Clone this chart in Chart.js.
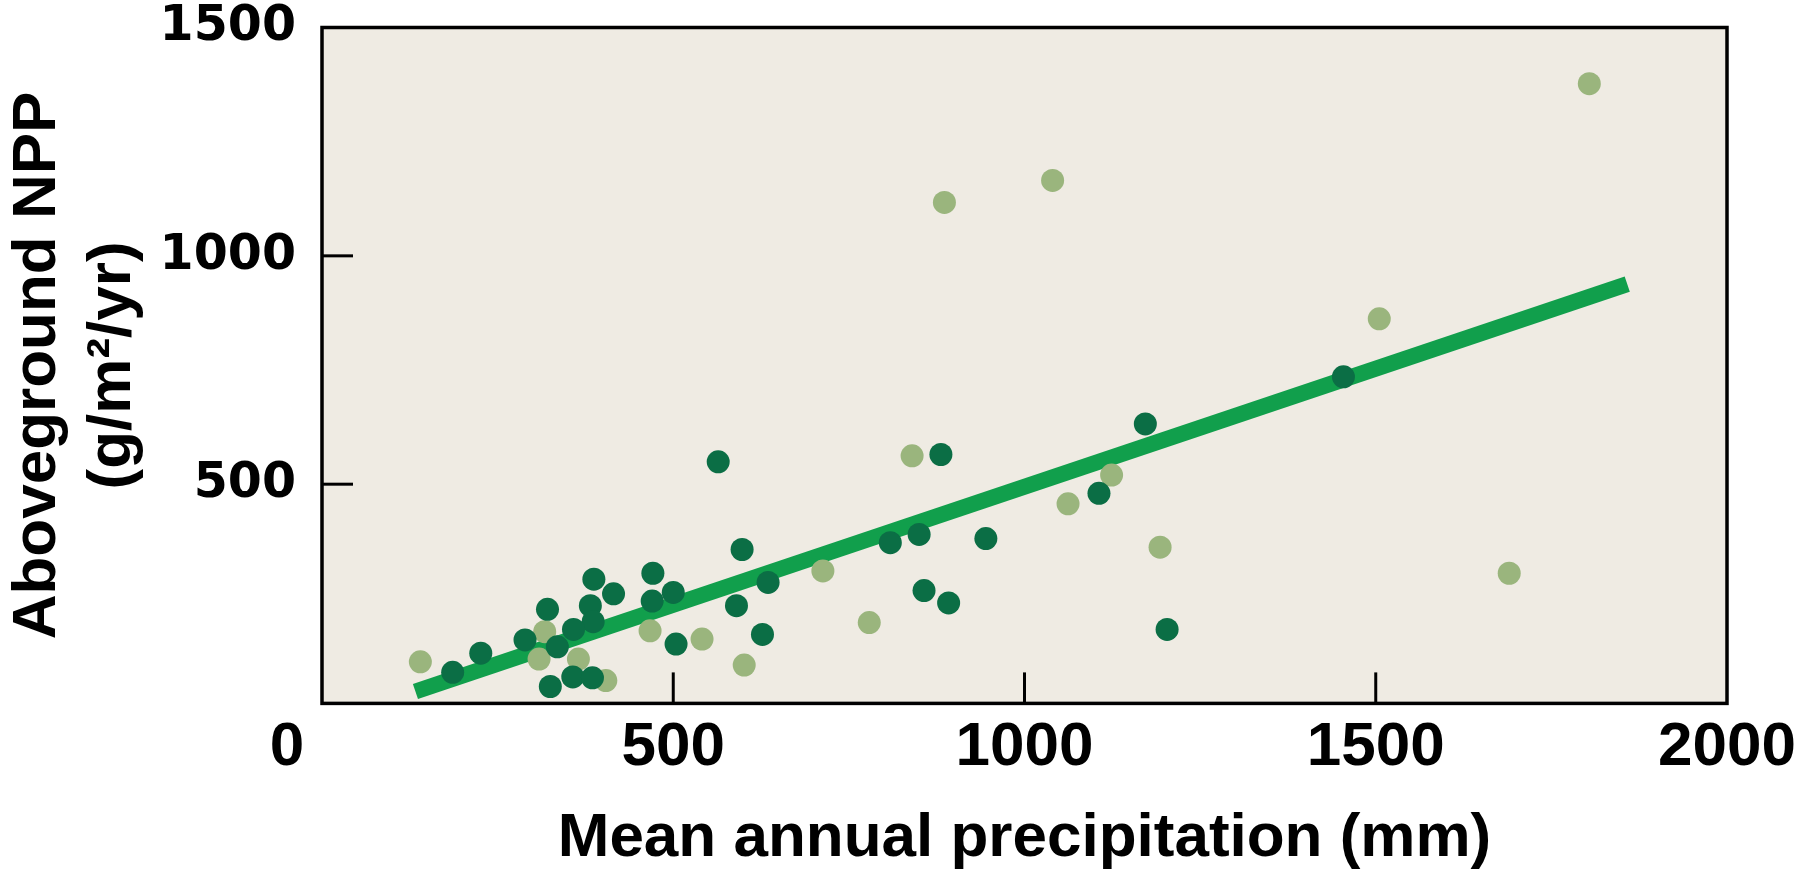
<!DOCTYPE html>
<html>
<head>
<meta charset="utf-8">
<title>Aboveground NPP vs mean annual precipitation</title>
<script src="https://cdn.jsdelivr.net/npm/chart.js@4.4.1/dist/chart.umd.min.js"></script>
<style>
  html, body { margin: 0; padding: 0; background: #fff; }
  #wrap { position: relative; width: 1797px; height: 872px; }
</style>
</head>
<body>
<div id="wrap"><canvas id="chart"></canvas></div>
<script>
// ---- Data ----------------------------------------------------------------

// dark green sites
const darkX = [564, 598, 635, 590, 627, 471, 470, 500, 504, 387, 415, 382, 386, 358, 321, 289,
               335, 226, 186, 325, 357, 385, 881, 809, 850, 945, 1106, 857, 892, 1203, 1172, 1454];
const darkY = [549, 357, 285, 234, 171, 305, 244, 263, 150, 292, 260, 234, 199, 182, 226, 159,
               144, 130, 88, 57, 78, 76, 565, 372, 390, 381, 480, 267, 240, 182, 632, 735];

// pale green sites
const lightX = [140, 317, 309, 365, 404, 467, 541, 601, 840, 1124, 1062, 713, 779, 1193, 1505,
                1690, 1804, 886, 1040];
const lightY = [111, 177, 117, 117, 70, 179, 161, 104, 562, 520, 457, 310, 197, 362, 862,
                305, 1377, 1117, 1165];

// regression line end points
const fitX = [133, 1858];
const fitY = [46, 938];

const xTickValues = [0, 500, 1000, 1500, 2000];
const yTickValues = [500, 1000, 1500];

// ---- Styling -------------------------------------------------------------

const BG = "#efebe3";
const DARK = "#0b6e45";
const LIGHT = "#9ab57d";
const LINE = "#119f4c";
const SANS = "'Liberation Sans', Arial, sans-serif";
const WIDE = "'DejaVu Sans', sans-serif";

function zip(xs, ys) {
  return xs.map((x, i) => ({ x, y: ys[i] }));
}

// Plot background, box frame, inward tick marks and the shared "0"
const framePlugin = {
  id: "frame",
  beforeDraw(chart) {
    const { ctx, chartArea: a } = chart;
    ctx.save();
    ctx.fillStyle = BG;
    ctx.fillRect(a.left, a.top, a.right - a.left, a.bottom - a.top);
    ctx.restore();
  },
  afterDraw(chart) {
    const { ctx, chartArea: a, scales } = chart;
    const x = scales.x;
    const y = scales.y;
    ctx.save();
    ctx.strokeStyle = "#000";
    ctx.lineWidth = 3;
    xTickValues
      .filter((v) => v > x.min && v < x.max)
      .forEach((v) => {
        const px = x.getPixelForValue(v);
        ctx.beginPath();
        ctx.moveTo(px, a.bottom);
        ctx.lineTo(px, a.bottom - 31);
        ctx.stroke();
      });
    yTickValues
      .filter((v) => v > y.min && v < y.max)
      .forEach((v) => {
        const py = y.getPixelForValue(v);
        ctx.beginPath();
        ctx.moveTo(a.left, py);
        ctx.lineTo(a.left + 31, py);
        ctx.stroke();
      });
    ctx.lineWidth = 3.5;
    ctx.strokeRect(a.left, a.top, a.right - a.left, a.bottom - a.top);

    ctx.fillStyle = "#000";
    ctx.font = `bold 62px ${SANS}`;
    ctx.textAlign = "center";
    ctx.textBaseline = "middle";
    ctx.fillText("0", a.left - 35, x.top + 7 + 37.2);
    ctx.restore();
  },
};

new Chart(document.getElementById("chart"), {
  type: "scatter",
  data: {
    datasets: [
      {
        label: "dark",
        data: zip(darkX, darkY),
        backgroundColor: DARK,
        pointRadius: 11.5,
        borderWidth: 0,
        order: 0,
      },
      {
        label: "light",
        data: zip(lightX, lightY),
        backgroundColor: LIGHT,
        pointRadius: 11.5,
        borderWidth: 0,
        order: 1,
      },
      {
        label: "fit",
        data: zip(fitX, fitY),
        showLine: true,
        borderColor: LINE,
        borderWidth: 16,
        borderCapStyle: "butt",
        pointRadius: 0,
        order: 2,
      },
    ],
  },
  options: {
    responsive: true,
    maintainAspectRatio: false,
    animation: false,
    events: [],
    layout: { padding: { left: 0, top: 27.5, right: 70, bottom: 0 } },
    plugins: { legend: { display: false }, tooltip: { enabled: false } },
    scales: {
      x: {
        type: "linear",
        min: 0,
        max: 2000,
        afterBuildTicks: (s) => {
          s.ticks = xTickValues.map((v) => ({ value: v }));
        },
        // fixed band under the plot; edge labels may overhang the margins
        afterFit: (s) => {
          s.height = 168.6;
          s.paddingLeft = 0;
          s.paddingRight = 0;
        },
        grid: { display: false, drawTicks: false },
        border: { display: false },
        ticks: {
          padding: 7,
          color: "#000",
          maxRotation: 0,
          autoSkip: false,
          font: { family: SANS, size: 62, weight: "bold", lineHeight: 1.2 },
          callback: (v) => (v === 0 ? "" : String(v)),
        },
        title: {
          display: true,
          text: "Mean annual precipitation (mm)",
          color: "#000",
          padding: { top: 0, bottom: 2 },
          font: { family: SANS, size: 62, weight: "bold", lineHeight: 1 },
        },
      },
      y: {
        type: "linear",
        min: 20,
        max: 1500,
        afterBuildTicks: (s) => {
          s.ticks = yTickValues.map((v) => ({ value: v }));
        },
        afterFit: (s) => {
          s.width = 322;
          s.paddingTop = 0;
          s.paddingBottom = 0;
        },
        grid: { display: false, drawTicks: false },
        border: { display: false },
        ticks: {
          padding: 26,
          color: "#000",
          autoSkip: false,
          font: { family: WIDE, size: 49, weight: "bold" },
          callback: (v) => String(v),
        },
        title: {
          display: true,
          text: ["Aboveground NPP", "(g/m²/yr)"],
          color: "#000",
          padding: { top: 1, bottom: 0 },
          font: { family: SANS, size: 62, weight: "bold", lineHeight: 1.2 },
        },
      },
    },
  },
  plugins: [framePlugin],
});
</script>
</body>
</html>
